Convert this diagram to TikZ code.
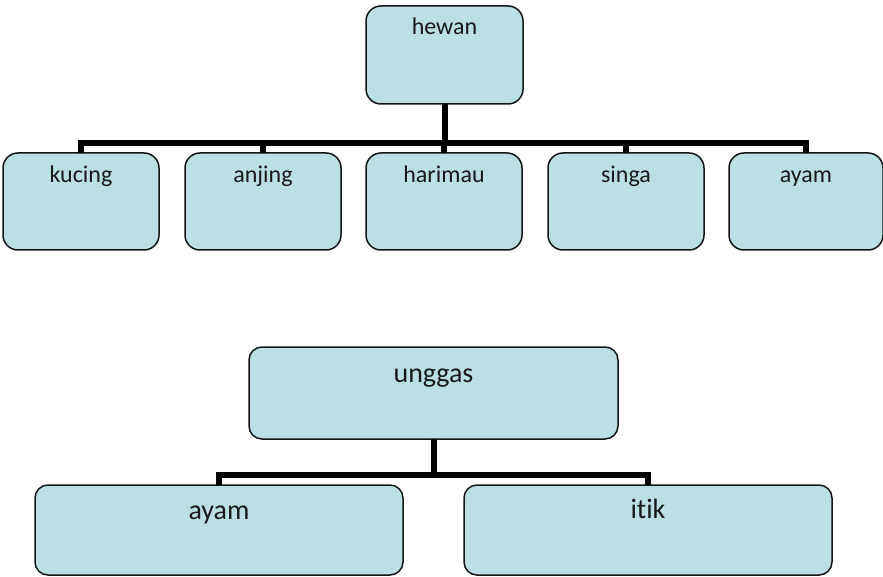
\documentclass[tikz,border=0pt]{standalone}
\usepackage{fontspec}
\setmainfont{Carlito}[Ligatures=NoCommon]
\definecolor{boxfill}{RGB}{186,224,227}
\definecolor{boxline}{RGB}{20,20,20}
\definecolor{inktext}{RGB}{25,25,25}
\tikzset{
  box/.style={draw=boxline, fill=boxfill, line width=1.5pt, rounded corners=15pt,
    inner sep=0pt, outer sep=0pt, anchor=north west, text=inktext},
  smallbox/.style={box, minimum width=156pt, text height=30pt, text depth=67pt,
    font=\fontsize{24}{28}\selectfont},
  widebox/.style={box, minimum width=368pt, rounded corners=13pt, text height=34pt,
    text depth=56pt, font=\fontsize{28}{32}\selectfont},
  link/.style={draw=black, line width=6pt, line join=miter}
}
\begin{document}
\begin{tikzpicture}[x=1pt,y=-1pt]
\useasboundingbox (0,0) rectangle (883,577);
% upper tree
\node[box, minimum width=157pt, text height=29pt, text depth=69pt,
  font=\fontsize{24}{28}\selectfont] (hewan) at (366,6) {hewan};
\node[smallbox] (kucing)  at (3,153)   {kucing};
\node[smallbox] (anjing)  at (185,153) {anjing};
\node[smallbox] (harimau) at (366,153) {harimau};
\node[smallbox] (singa)   at (548,153) {singa};
\node[smallbox, minimum width=154pt] (ayamA) at (729,153) {ayam};
\coordinate (busA) at (444,143);
\foreach \c in {kucing,anjing,harimau,singa,ayamA}
  \draw[link] (hewan.south) -- (hewan.south |- busA) -| (\c.north);
% lower tree
\node[widebox, minimum width=369pt, text height=35pt, text depth=57pt] (unggas) at (249,347) {unggas};
\node[widebox] (ayamB) at (35,485) {ayam};
\node[widebox, text height=33pt, text depth=57pt] (itik)  at (464,485) {itik};
\coordinate (busB) at (433,475);
\foreach \c in {ayamB,itik}
  \draw[link] (unggas.south) -- (unggas.south |- busB) -| (\c.north);
\end{tikzpicture}
\end{document}
